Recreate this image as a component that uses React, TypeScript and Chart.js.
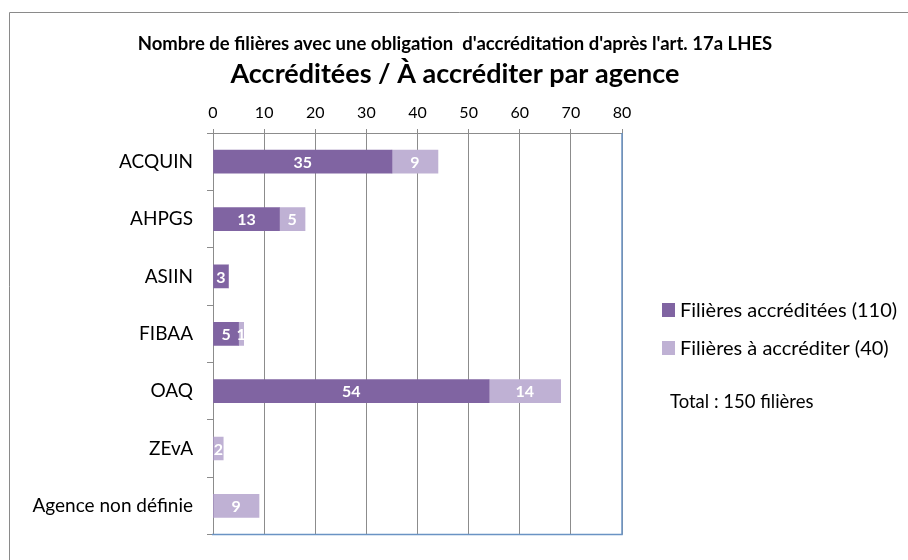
import React, { useEffect, useRef } from "react";
import { Chart, registerables } from "chart.js";

Chart.register(...registerables);

const categories = ["ACQUIN", "AHPGS", "ASIIN", "FIBAA", "OAQ", "ZEvA", "Agence non définie"];
const accredited = [35, 13, 3, 5, 54, 0, 0];
const toAccredit = [9, 5, 0, 1, 14, 2, 9];
const seriesLabels = ["Filières accréditées (110)", "Filières à accréditer (40)"];
const subTitle = "Nombre de filières avec une obligation  d'accréditation d'après l'art. 17a LHES";
const mainTitle = "Accréditées / À accréditer par agence";
const totalText = "Total : 150 filières";
const colors = ["#8064A2", "#BFB1D4"];
const FONT = "Lato, 'Open Sans', sans-serif";

const decor = {
  id: "decor",
  beforeDraw(chart: any) {
    const ctx = chart.ctx;
    ctx.save();
    ctx.fillStyle = "#fff";
    ctx.fillRect(0, 0, chart.width, chart.height);
    ctx.strokeStyle = "#8a8a8a";
    ctx.lineWidth = 1;
    ctx.beginPath();
    ctx.moveTo(9.5, chart.height + 5);
    ctx.lineTo(9.5, 12.5);
    ctx.lineTo(chart.width + 5, 12.5);
    ctx.stroke();
    ctx.restore();
  },
  afterDraw(chart: any) {
    const ctx = chart.ctx;
    const a = chart.chartArea;
    ctx.save();
    // blue right and bottom borders
    ctx.strokeStyle = "#6A93C4";
    ctx.lineWidth = 1.5;
    ctx.beginPath();
    ctx.moveTo(a.right, a.top);
    ctx.lineTo(a.right, a.bottom);
    ctx.lineTo(a.left - 1, a.bottom);
    ctx.stroke();
    // titles
    ctx.fillStyle = "#000";
    ctx.textAlign = "center";
    ctx.textBaseline = "middle";
    ctx.font = `bold 18.5px ${FONT}`;
    ctx.fillText(subTitle, 455, 44);
    ctx.font = `bold 27px ${FONT}`;
    ctx.fillText(mainTitle, 455, 74);
    // legend
    ctx.textAlign = "left";
    ctx.font = `20px ${FONT}`;
    const ly = [310, 348];
    for (let i = 0; i < 2; i++) {
      ctx.fillStyle = colors[i];
      ctx.fillRect(662, ly[i] - 7, 13, 14);
      ctx.fillStyle = "#000";
      ctx.fillText(seriesLabels[i], 680, ly[i] + 1);
    }
    ctx.font = `18.5px ${FONT}`;
    ctx.fillText(totalText, 670, 402);
    // data labels
    ctx.font = `bold 16px ${FONT}`;
    ctx.textAlign = "center";
    ctx.fillStyle = "#fff";
    chart.data.datasets.forEach((ds: any, di: number) => {
      const meta = chart.getDatasetMeta(di);
      meta.data.forEach((bar: any, i: number) => {
        const v = ds.data[i];
        if (!v) return;
        const x0 = bar.base;
        const x1 = bar.x;
        ctx.fillText(String(v), (x0 + x1) / 2, bar.y + 1);
      });
    });
    ctx.restore();
  },
};

export default function App() {
  const ref = useRef<HTMLCanvasElement>(null);
  useEffect(() => {
    if (!ref.current) return;
    const chart = new Chart(ref.current, {
      type: "bar",
      data: {
        labels: categories,
        datasets: [
          { label: seriesLabels[0], data: accredited, backgroundColor: colors[0], barThickness: 23 },
          { label: seriesLabels[1], data: toAccredit, backgroundColor: colors[1], barThickness: 23 },
        ],
      },
      options: {
        indexAxis: "y",
        animation: false,
        responsive: false,
        devicePixelRatio: 1,
        layout: { padding: { left: 0, right: 286, top: 90, bottom: 13 } },
        plugins: { legend: { display: false }, tooltip: { enabled: false }, title: { display: false } },
        scales: {
          x: {
            position: "top",
            stacked: true,
            min: 0,
            max: 80,
            ticks: { stepSize: 10, color: "#000", font: { family: FONT, size: 16 }, padding: 7 },
            grid: { color: "#8c8c8c", lineWidth: 1, tickLength: 4, tickColor: "#8c8c8c" },
            border: { color: "#8c8c8c", width: 1 },
            afterFit: (s: any) => { s.height = 43; },
          },
          y: {
            stacked: true,
            ticks: { color: "#000", font: { family: FONT, size: 19 }, padding: 14 },
            grid: { offset: true, drawOnChartArea: false, tickLength: 6, color: "#8c8c8c" },
            border: { color: "#8c8c8c", width: 1 },
            afterFit: (s: any) => { s.width = 213; },
          },
        },
      },
      plugins: [decor],
    } as any);
    return () => chart.destroy();
  }, []);
  return (
    <div style={{ position: "absolute", left: 0, top: 0, width: 908, height: 560 }}>
      <canvas ref={ref} width={908} height={560} style={{ width: 908, height: 560 }} />
    </div>
  );
}
